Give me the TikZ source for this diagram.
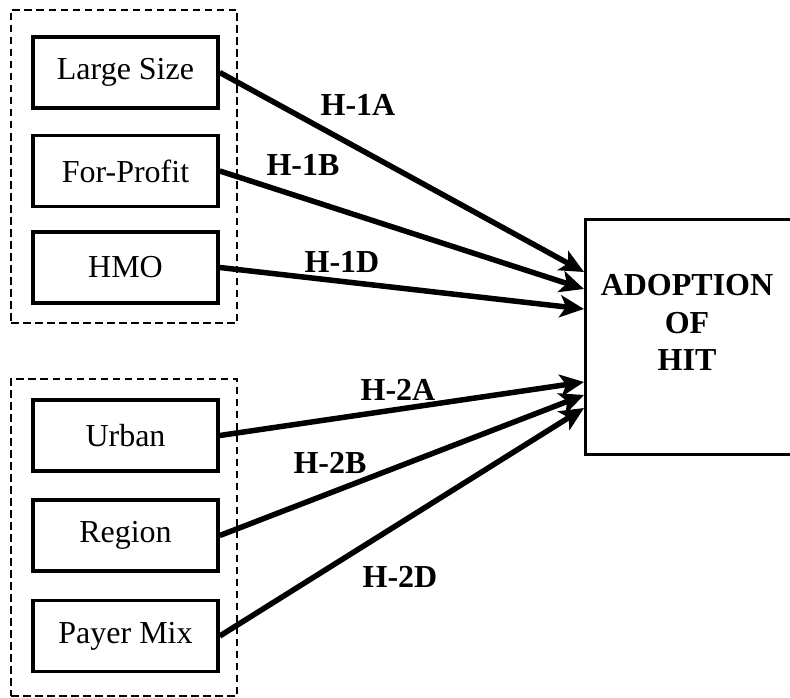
\documentclass[tikz,border=0pt]{standalone}
\usepackage{fontspec}
\setmainfont{Liberation Serif}
\usetikzlibrary{arrows.meta}

\tikzset{
  grouping/.style={draw, dashed, line width=1.4pt, dash pattern=on 7.5pt off 4.5pt,
    minimum width=226pt, inner sep=0pt},
  factor/.style={draw, line width=3.6pt, minimum width=185pt, minimum height=71pt,
    inner sep=0pt, font=\fontsize{32}{38}\selectfont},
  outcome/.style={draw, line width=3.2pt, minimum width=240pt, minimum height=235pt,
    anchor=north west, inner sep=0pt},
  hypo/.style={inner sep=0pt, font=\fontsize{32}{38}\selectfont\bfseries},
  link/.style={line width=5.5pt, -{Stealth[length=24pt, width=22pt, inset=6pt]}},
}

\begin{document}
\begin{tikzpicture}[x=1pt, y=-1pt]
  \clip (0,0) rectangle (790,698);
  \fill[white] (0,0) rectangle (790,698);

  % dashed groupings of the explanatory factors
  \node[grouping, minimum height=313pt] (g1) at (124,166.5) {};
  \node[grouping, minimum height=317pt] (g2) at (124,537.5) {};

  % factor boxes
  \node[factor] (large)  at (125.5,72.5)  {Large Size};
  \node[factor] (profit) at (125.5,171)   {For-Profit};
  \node[factor] (hmo)    at (125.5,267.5) {HMO};
  \node[factor] (urban)  at (125.5,435.5) {Urban};
  \node[factor] (region) at (125.5,535.5) {Region};
  \node[factor] (payer)  at (125.5,636)   {Payer Mix};

  % outcome box (runs off the right edge)
  \node[outcome] (hit) at (584,218) {};
  \node[hypo, align=center, font=\fontsize{32}{37.5}\selectfont\bfseries]
    (hitlabel) at (687,322.5) {ADOPTION\\OF\\HIT};

  % arrival points on the outcome box
  \coordinate (t1) at (hit.north west |- 0,272);
  \coordinate (t2) at (hit.north west |- 0,289);
  \coordinate (t3) at (hit.north west |- 0,309);
  \coordinate (t4) at (hit.north west |- 0,382);
  \coordinate (t5) at (hit.north west |- 0,395);
  \coordinate (t6) at (hit.north west |- 0,408);

  % hypothesised effects
  \draw[link] (large.east)  -- (t1);
  \draw[link] (profit.east) -- (t2);
  \draw[link] (hmo.east)    -- (t3);
  \draw[link] (urban.east)  -- (t4);
  \draw[link] (region.east) -- (t5);
  \draw[link] (payer.east)  -- (t6);

  % hypothesis labels
  \node[hypo] (h1a) at (358,105) {H-1A};
  \node[hypo] (h1b) at (303,165) {H-1B};
  \node[hypo] (h1d) at (342,262) {H-1D};
  \node[hypo] (h2a) at (398,390) {H-2A};
  \node[hypo] (h2b) at (330,463) {H-2B};
  \node[hypo] (h2d) at (400,577) {H-2D};
\end{tikzpicture}
\end{document}
